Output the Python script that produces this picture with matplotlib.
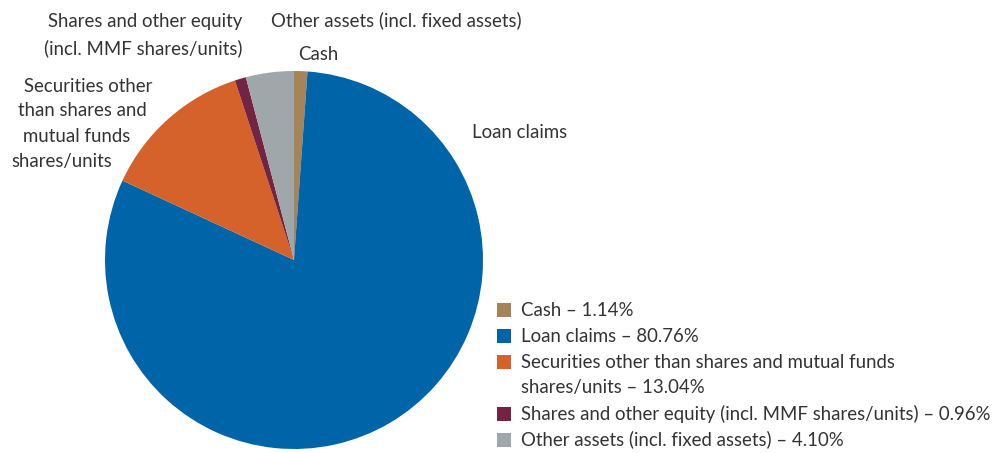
import matplotlib.pyplot as plt
from matplotlib.patches import Rectangle

categories = ["Cash", "Loan claims",
              "Securities other than shares and mutual funds shares/units",
              "Shares and other equity (incl. MMF shares/units)",
              "Other assets (incl. fixed assets)"]
shares = [1.14, 80.76, 13.04, 0.96, 4.10]
colors = ["#A6845A", "#0065A8", "#D4622A", "#722442", "#A0A7AB"]
legend_labels = ["Cash \u2013 1.14%",
                 "Loan claims \u2013 80.76%",
                 "Securities other than shares and mutual funds\nshares/units \u2013 13.04%",
                 "Shares and other equity (incl. MMF shares/units) \u2013 0.96%",
                 "Other assets (incl. fixed assets) \u2013 4.10%"]

TXT = "#333333"
plt.rcParams['font.family'] = ['Lato', 'DejaVu Sans']

W, H = 997, 453
fig = plt.figure(figsize=(W / 100, H / 100), dpi=100)
ax = fig.add_axes([0, 0, 1, 1])

# pie in pixel coords (y axis inverted, so flip the direction)
ax.pie(shares, colors=colors, startangle=-90, counterclock=True,
       center=(294, 260), radius=189, frame=True,
       wedgeprops=dict(linewidth=0))
ax.set_xlim(0, W)
ax.set_ylim(H, 0)
ax.set_aspect('equal')
ax.axis('off')

fs = 13.4
ax.text(242, 22, "Shares and other equity", ha='right', va='center',
        fontsize=fs, color=TXT)
ax.text(242, 48, "(incl. MMF shares/units)", ha='right', va='center',
        fontsize=fs, color=TXT)
ax.text(396, 20, "Other assets (incl. fixed assets)", ha='center', va='center',
        fontsize=fs, color=TXT)
ax.text(318, 54, "Cash", ha='center', va='center', fontsize=fs, color=TXT)
sec_lines = ["Securities other", "than shares and", "mutual funds", "shares/units"]
for ln, (lx, ly) in zip(sec_lines, [(24, 86), (18, 111), (23, 136), (11, 162)]):
    ax.text(lx, ly, ln, ha='left', va='center', fontsize=fs, color=TXT)
ax.text(520, 132, "Loan claims", ha='center', va='center', fontsize=fs, color=TXT)

# legend
y = 310
for lab, c in zip(legend_labels, colors):
    ax.add_patch(Rectangle((497, y - 7), 14, 14, color=c, lw=0))
    for ln in lab.split("\n"):
        ax.text(521, y, ln, ha='left', va='center', fontsize=fs, color=TXT)
        y += 25.5
    y += 0.5

fig.savefig("out.png", dpi=100)
